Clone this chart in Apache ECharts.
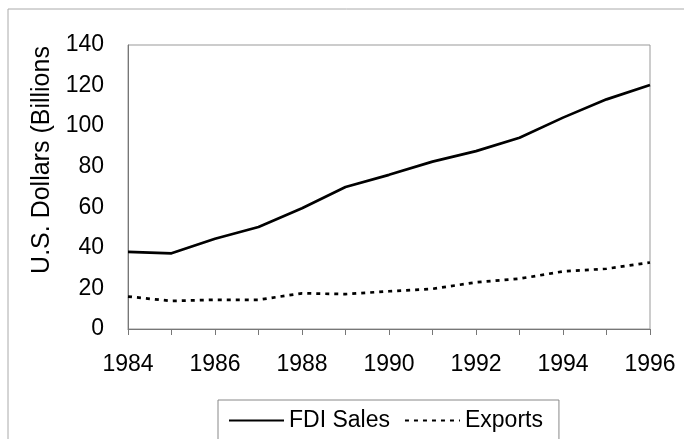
<!DOCTYPE html>
<html>
<head>
<meta charset="utf-8">
<script src="https://cdn.jsdelivr.net/npm/echarts@6/dist/echarts.min.js"></script>
<style>
  html, body { margin: 0; padding: 0; background: #fff; }
  #main { width: 684px; height: 439px; }
</style>
</head>
<body>
<div id="main"></div>
<script>
// data
const years = ['1984', '1985', '1986', '1987', '1988', '1989', '1990',
  '1991', '1992', '1993', '1994', '1995', '1996'];
const fdiSales = [38.0, 37.3, 44.5, 50.3, 59.5, 70.0, 76.0, 82.5, 87.7, 94.3, 104.2, 113.2, 120.3];
const exportsVals = [16.0, 13.8, 14.4, 14.4, 17.6, 17.2, 18.6, 19.8, 23.0, 24.8, 28.4, 29.7, 32.8];
const yTicks = [0, 20, 40, 60, 80, 100, 120, 140];

const font = '"Liberation Sans", Arial, sans-serif';

let myChart = echarts.init(document.getElementById('main'));
let option = {
  backgroundColor: '#fff',
  animation: false,
  textStyle: { fontFamily: font, color: '#000' },
  graphic: [
    {
      type: 'rect',
      shape: { x: 8, y: 9, width: 700, height: 460 },
      style: { fill: 'none', stroke: '#aaa', lineWidth: 1 },
      silent: true
    },
    {
      type: 'text',
      x: 42,
      y: 160,
      rotation: Math.PI / 2,
      style: {
        text: 'U.S. Dollars (Billions',
        font: '25px ' + font,
        fill: '#000',
        align: 'center',
        verticalAlign: 'middle'
      }
    }
  ],
  legend: {
    left: 218,
    top: 400,
    padding: [9, 16, 30, 10],
    borderColor: '#888',
    borderWidth: 1,
    itemWidth: 55,
    itemHeight: 14,
    itemGap: 14,
    itemStyle: { color: 'transparent', borderWidth: 0 },
    textStyle: { fontSize: 23, fontFamily: font, color: '#000' },
    data: ['FDI Sales', 'Exports']
  },
  grid: {
    left: 128,
    right: 34,
    top: 45,
    bottom: 110,
    show: true,
    borderColor: '#999',
    borderWidth: 1
  },
  xAxis: {
    type: 'category',
    data: years,
    boundaryGap: false,
    axisLine: { lineStyle: { color: '#777', width: 1 } },
    axisTick: { interval: 0, length: 6, lineStyle: { color: '#777' } },
    axisLabel: { interval: 1, margin: 24, fontSize: 23, color: '#000' },
    splitLine: { show: false }
  },
  yAxis: {
    type: 'value',
    min: yTicks[0],
    max: yTicks[yTicks.length - 1],
    interval: 20,
    axisLine: { show: true, lineStyle: { color: '#777', width: 1 } },
    axisTick: { show: false },
    axisLabel: { margin: 24, fontSize: 23, color: '#000' },
    splitLine: { show: false }
  },
  series: [
    {
      name: 'FDI Sales',
      type: 'line',
      data: fdiSales,
      symbol: 'none',
      lineStyle: { color: '#000', width: 2.7, type: 'solid' },
      itemStyle: { color: '#000' }
    },
    {
      name: 'Exports',
      type: 'line',
      data: exportsVals,
      symbol: 'none',
      lineStyle: { color: '#000', width: 2.7, type: [4, 5] },
      itemStyle: { color: '#000' }
    }
  ]
};
myChart.setOption(option);
</script>
</body>
</html>
